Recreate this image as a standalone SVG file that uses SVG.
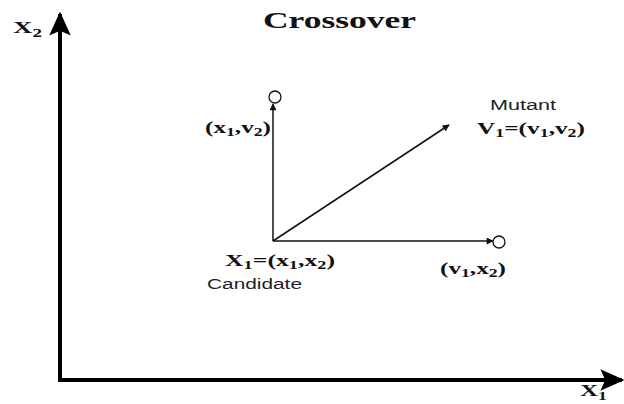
<svg xmlns="http://www.w3.org/2000/svg" width="624" height="404" viewBox="0 0 624 404">
<style>
.ser{font-family:"Liberation Serif","Times New Roman",serif;font-weight:bold;fill:#111}
.san{font-family:"Liberation Sans",Arial,sans-serif;font-size:14px;fill:#222}
.ax{stroke:#000;stroke-width:4;fill:none}
.ln{stroke:#111;stroke-width:1.5;fill:none}
.pt{fill:#fff;stroke:#111;stroke-width:1.3}
</style>
<defs>
<marker id="ah" viewBox="0 0 10 10" refX="9" refY="5" markerWidth="8" markerHeight="7" markerUnits="userSpaceOnUse" orient="auto"><path d="M0,0 L10,5 L0,10 z" fill="#111"/></marker>
<marker id="axh" viewBox="0 0 10 10" refX="9" refY="5" markerWidth="6" markerHeight="6" orient="auto"><path d="M0,0.5 L10,5 L0,9.5 L2,5 z" fill="#000"/></marker>
</defs>
<text class="ser" x="263" y="28" font-size="23" textLength="153" lengthAdjust="spacingAndGlyphs">Crossover</text>
<g id="axes">
<path class="ax" d="M60,380 V14" marker-end="url(#axh)"/>
<path class="ax" d="M58,380 H622" marker-end="url(#axh)"/>
<text class="ser" x="13" y="33" font-size="17" textLength="29" lengthAdjust="spacingAndGlyphs">X<tspan font-size="12" dy="4">2</tspan></text>
<text class="ser" x="580" y="396" font-size="17" textLength="27" lengthAdjust="spacingAndGlyphs">X<tspan font-size="12" dy="4">1</tspan></text>
</g>
<g id="connectors">
<path class="ln" d="M273,241 V104" marker-end="url(#ah)"/>
<path class="ln" d="M273,241 H493" marker-end="url(#ah)"/>
<path class="ln" d="M273,241 L449,125" marker-end="url(#ah)"/>
</g>
<g id="candidate">
<text class="ser" x="225" y="266" font-size="17" textLength="110" lengthAdjust="spacingAndGlyphs">X<tspan font-size="12" dy="3">1</tspan><tspan dy="-3">=(x</tspan><tspan font-size="12" dy="3">1</tspan><tspan dy="-3">,x</tspan><tspan font-size="12" dy="3">2</tspan><tspan dy="-3">)</tspan></text>
<text class="san" x="207" y="289" textLength="95" lengthAdjust="spacingAndGlyphs">Candidate</text>
</g>
<g id="point-x1v2">
<circle class="pt" cx="275" cy="97" r="6"/>
<text class="ser" x="205" y="133" font-size="17" textLength="66" lengthAdjust="spacingAndGlyphs">(x<tspan font-size="12" dy="3">1</tspan><tspan dy="-3">,v</tspan><tspan font-size="12" dy="3">2</tspan><tspan dy="-3">)</tspan></text>
</g>
<g id="point-v1x2">
<circle class="pt" cx="499" cy="242" r="6"/>
<text class="ser" x="440" y="274" font-size="17" textLength="66" lengthAdjust="spacingAndGlyphs">(v<tspan font-size="12" dy="3">1</tspan><tspan dy="-3">,x</tspan><tspan font-size="12" dy="3">2</tspan><tspan dy="-3">)</tspan></text>
</g>
<g id="mutant">
<text class="san" x="490" y="110" textLength="66" lengthAdjust="spacingAndGlyphs">Mutant</text>
<text class="ser" x="477" y="134" font-size="17" textLength="108" lengthAdjust="spacingAndGlyphs">V<tspan font-size="12" dy="3">1</tspan><tspan dy="-3">=(v</tspan><tspan font-size="12" dy="3">1</tspan><tspan dy="-3">,v</tspan><tspan font-size="12" dy="3">2</tspan><tspan dy="-3">)</tspan></text>
</g>
</svg>
